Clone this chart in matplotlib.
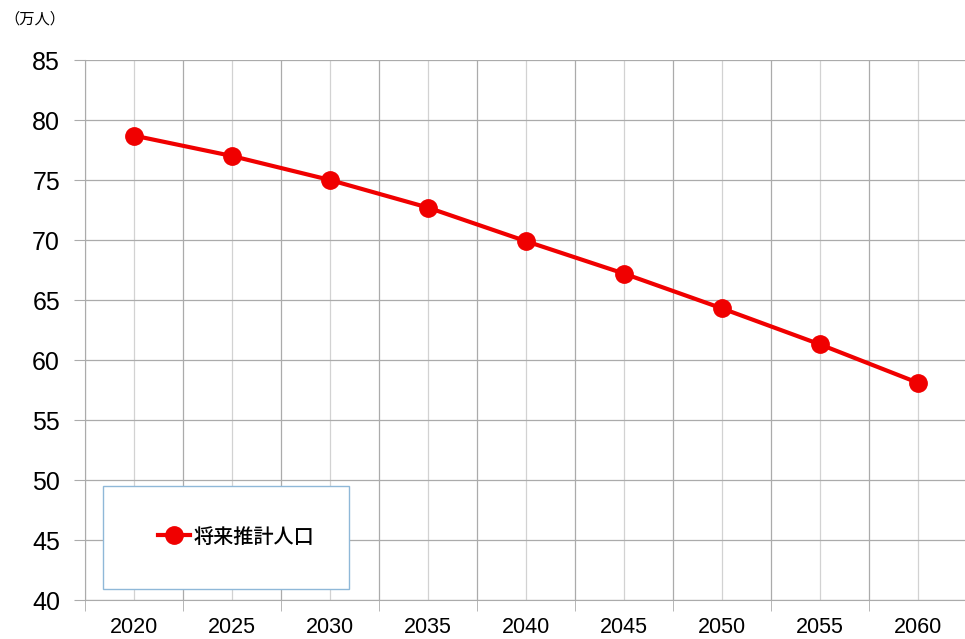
import matplotlib
matplotlib.use("Agg")
import matplotlib.pyplot as plt
from matplotlib.patches import Rectangle
import numpy as np

plt.rcParams["font.family"] = ["Liberation Sans", "Noto Sans CJK JP", "DejaVu Sans"]

# 将来推計人口（万人）
years = ["2020", "2025", "2030", "2035", "2040", "2045", "2050", "2055", "2060"]
population = [78.7, 77.0, 75.0, 72.7, 69.9, 67.2, 64.3, 61.3, 58.1]
y_ticks = [40, 45, 50, 55, 60, 65, 70, 75, 80, 85]

fig = plt.figure(figsize=(9.65, 6.39), dpi=100)
ax = fig.add_axes([85 / 965, 39 / 639, 882 / 965, 540 / 639])

x = np.arange(len(years))
ax.plot(x, population, color="#f00000", lw=3.0, marker="o", ms=12.5,
        label="将来推計人口", zorder=4)

ax.set_xlim(-0.5, len(years) - 0.5)
ax.set_ylim(y_ticks[0], y_ticks[-1])
ax.set_yticks(y_ticks)
ax.set_xticks(x)
ax.set_xticklabels(years)
ax.set_xticks(np.arange(len(years) + 1) - 0.5, minor=True)

grid_col = "#ababab"
ax.grid(True, axis="y", color=grid_col, lw=0.9)
ax.grid(True, axis="x", which="major", color="#d2d2d2", lw=0.9)
ax.grid(True, axis="x", which="minor", color=grid_col, lw=0.9)
ax.set_axisbelow(True)
for s in ["top", "right"]:
    ax.spines[s].set_visible(False)
ax.spines["left"].set_color(grid_col)
ax.spines["bottom"].set_color(grid_col)

ax.tick_params(axis="y", length=8, color=grid_col, labelsize=18, pad=10)
ax.tick_params(axis="x", which="major", length=0, labelsize=15.5, pad=12)
ax.tick_params(axis="x", which="minor", length=8, color=grid_col)

fig.text(4 / 965, 1 - 19 / 639, "（万人）", fontsize=11,
         family=["Noto Sans CJK JP", "DejaVu Sans"], va="center")

# legend box
box = Rectangle((103 / 965, 1 - 589 / 639), 246 / 965, 103 / 639,
                transform=fig.transFigure, facecolor="white",
                edgecolor="#8fb8d8", lw=1.0, zorder=5)
fig.add_artist(box)
leg = fig.legend(loc="center left", bbox_to_anchor=(140 / 965, 1 - 537 / 639),
                 frameon=False, handlelength=1.6, handletextpad=0.15,
                 prop={"family": ["Noto Sans CJK JP"], "size": 14.5,
                       "weight": "medium"})
leg.set_zorder(6)

fig.savefig("out.png", dpi=100)
